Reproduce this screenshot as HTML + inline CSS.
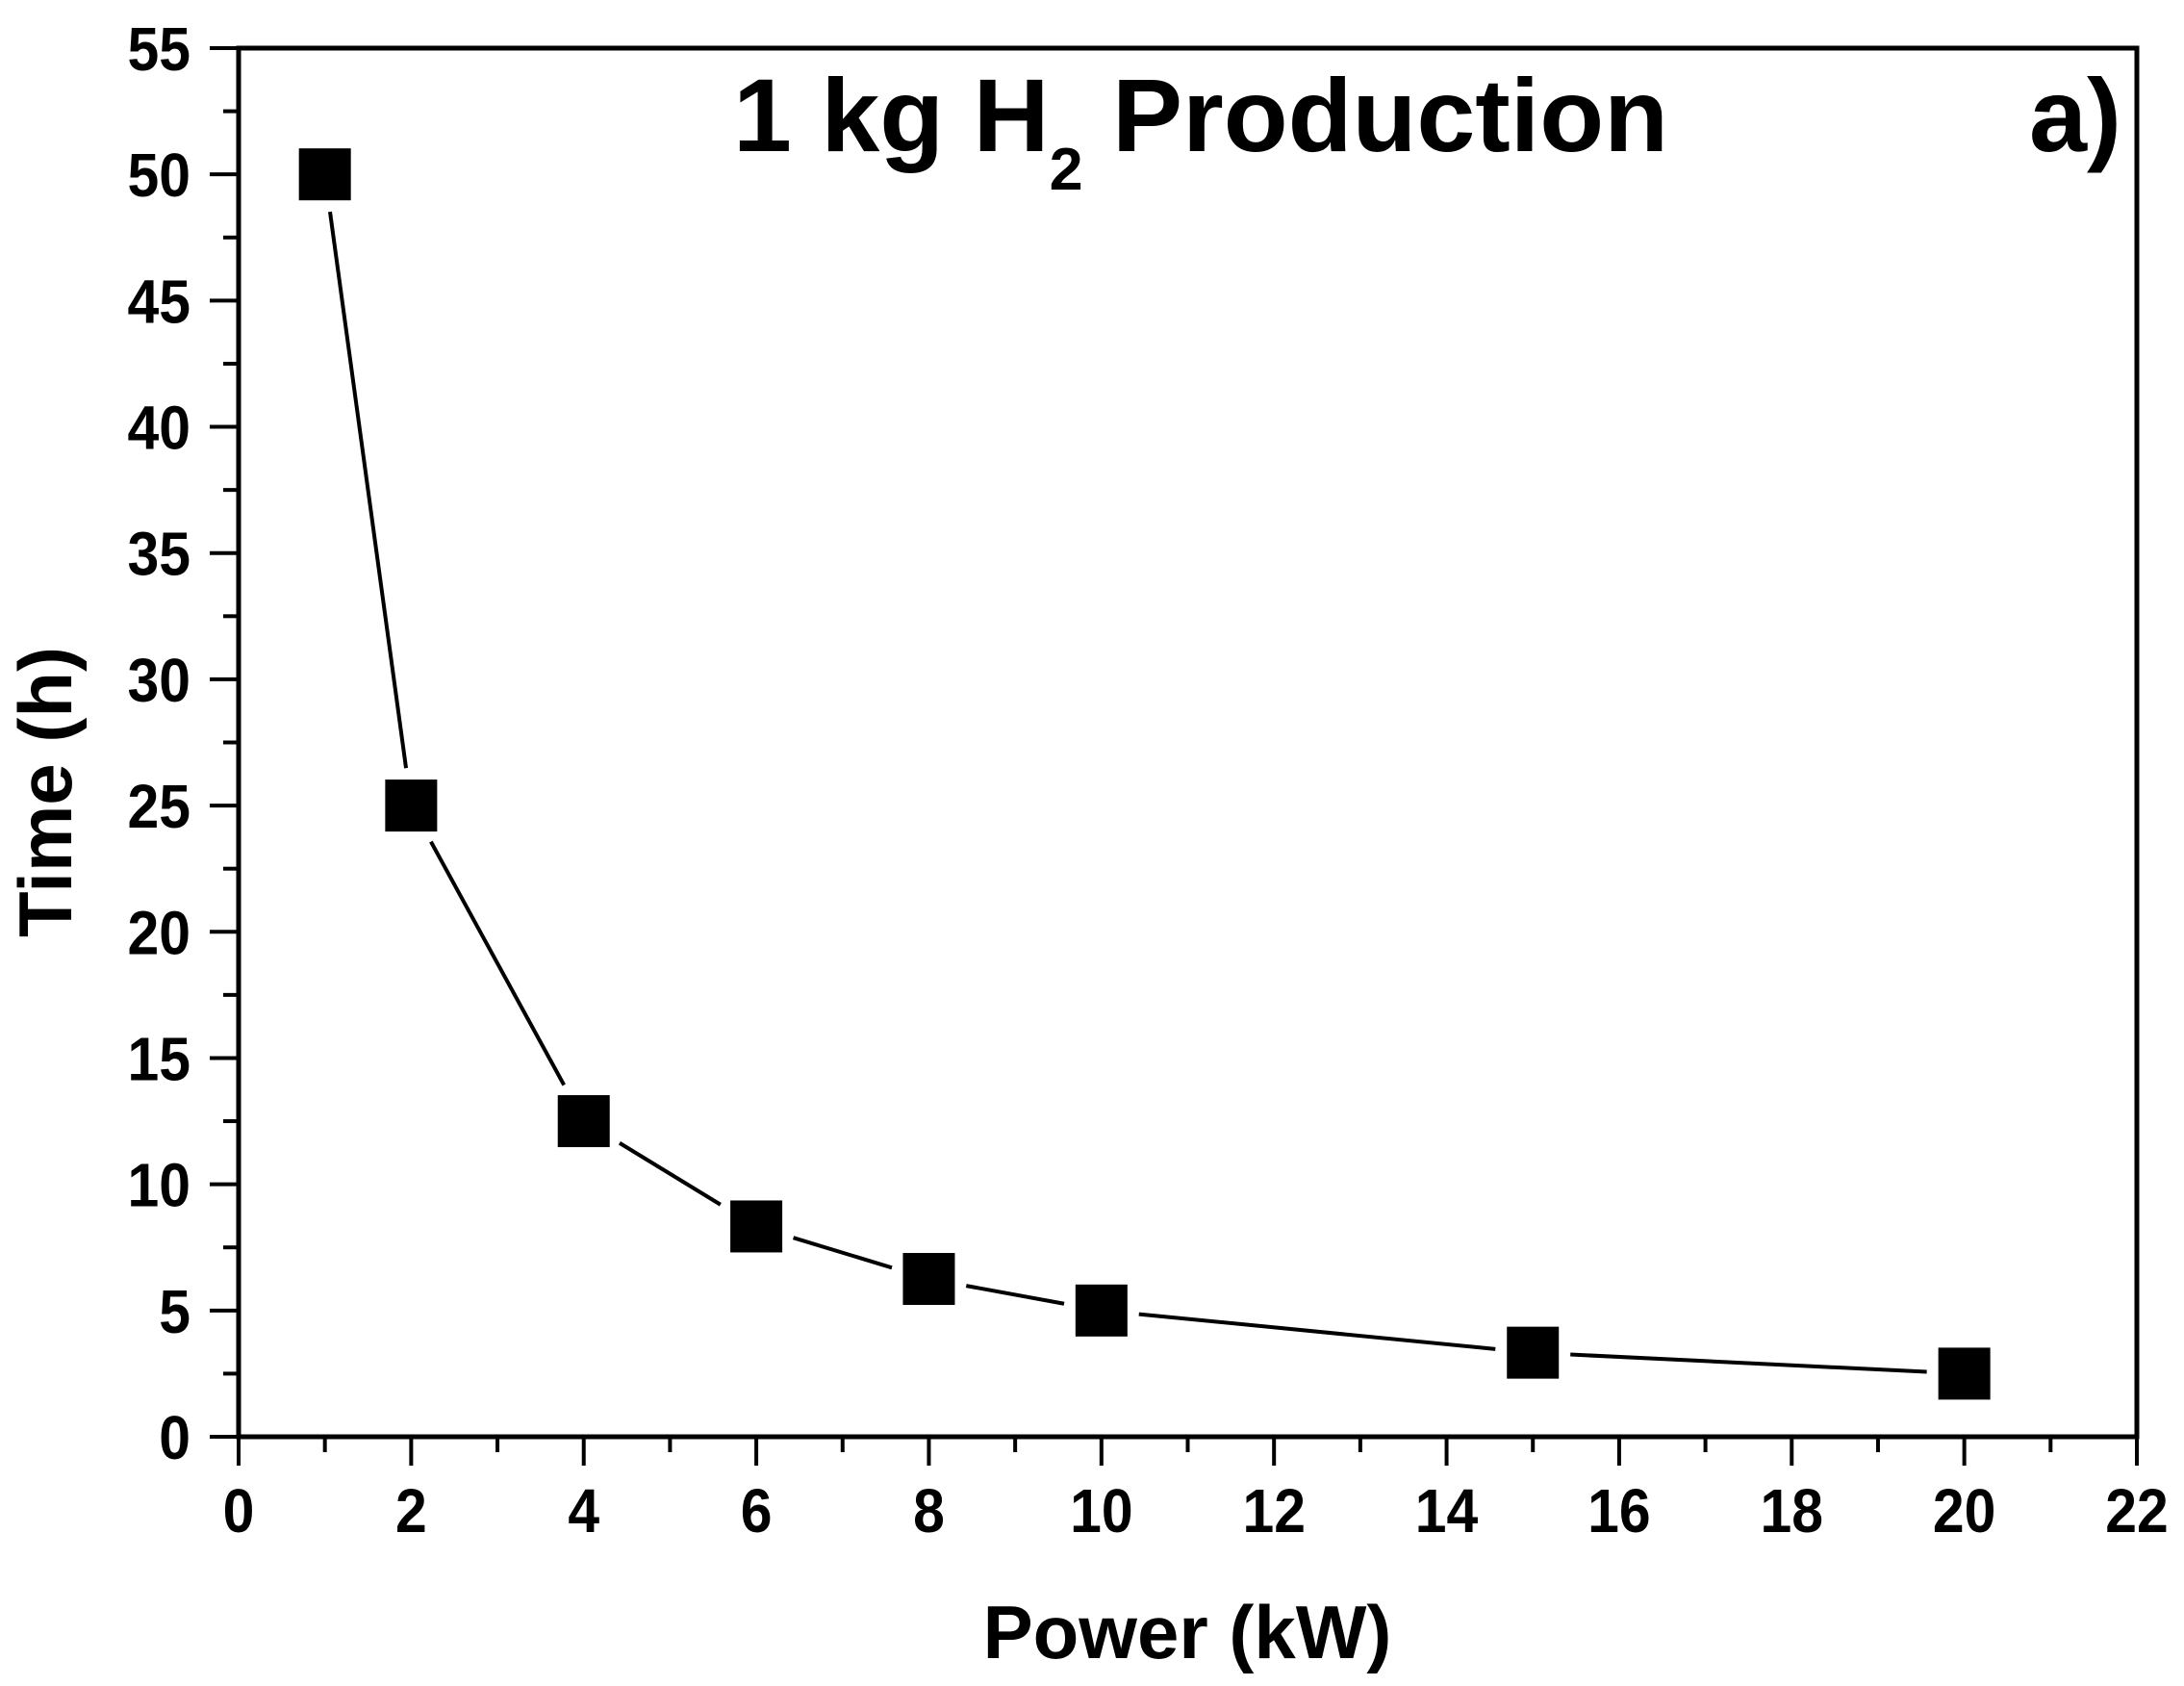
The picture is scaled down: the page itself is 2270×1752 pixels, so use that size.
<!DOCTYPE html>
<html><head><meta charset="utf-8"><style>
html,body{margin:0;padding:0;background:#fff;}
svg{display:block;}
text{font-family:"Liberation Sans",Arial,sans-serif;font-weight:bold;fill:#000;}
</style></head><body>
<svg id="chart" width="2270" height="1752" viewBox="0 0 2270 1752" xmlns="http://www.w3.org/2000/svg">
<g id="axes"></g>
<g id="series"></g>
<text x="762" y="157" font-size="108" textLength="972" lengthAdjust="spacingAndGlyphs">1 kg H<tspan font-size="62" dy="40">2</tspan><tspan dy="-40"> Production</tspan></text>
<text x="2205" y="157" font-size="108" text-anchor="end">a)</text>
<text x="1234" y="1723" font-size="78" text-anchor="middle">Power (kW)</text>
<text x="0" y="0" font-size="78" text-anchor="middle" transform="translate(74,823) rotate(-90)">Time (h)</text>
</svg>
<script>
const powerKW = [1, 2, 4, 6, 8, 10, 15, 20];
const timeH = [50, 25, 12.5, 8.33, 6.25, 5, 3.33, 2.5];
const xTickLabels = ["0","2","4","6","8","10","12","14","16","18","20","22"];
const yTickLabels = ["0","5","10","15","20","25","30","35","40","45","50","55"];

const L=248, R=2221, T=50, B=1493;
const xMin=0,xMax=22,yMin=0,yMax=55;
function sx(v){return L+(v-xMin)/(xMax-xMin)*(R-L);}
function sy(v){return B-(v-yMin)/(yMax-yMin)*(B-T);}
const NS="http://www.w3.org/2000/svg";
function mk(tag,attrs,parent){const e=document.createElementNS(NS,tag);for(const k in attrs)e.setAttribute(k,attrs[k]);parent.appendChild(e);return e;}
const axes=document.getElementById('axes');
const series=document.getElementById('series');

const frame=mk('rect',{x:L,y:T,width:R-L,height:B-T,fill:'none',stroke:'#000','stroke-width':5},axes);



for(let v=0; v<=22; v+=1){
  const major = v%2===0;
  const t=mk('line',{x1:sx(v),x2:sx(v),y1:B,y2:B+(major?30:16),stroke:'#000','stroke-width':4},axes);
  
  
}
xTickLabels.forEach(s=>{
  const v=parseFloat(s);
  const t=mk('text',{x:0,y:0,'font-size':64,'text-anchor':'middle',transform:`translate(${sx(v)},1592) scale(0.92,1)`},axes);
  t.textContent=s;
  
  
});
for(let v=0; v<=55; v+=2.5){
  const major = (v%5)===0;
  const t=mk('line',{x1:L-(major?30:16),x2:L,y1:sy(v),y2:sy(v),stroke:'#000','stroke-width':4},axes);
  
  
}
yTickLabels.forEach(s=>{
  const v=parseFloat(s);
  const t=mk('text',{x:0,y:0,'font-size':64,'text-anchor':'end',transform:`translate(198,${sy(v)+23}) scale(0.92,1)`},axes);
  t.textContent=s;
  
  
});

const half=27, gap=12;
for(let i=0;i<powerKW.length-1;i++){
  const x1=sx(powerKW[i]),y1=sy(timeH[i]),x2=sx(powerKW[i+1]),y2=sy(timeH[i+1]);
  const dx=x2-x1, dy=y2-y1, len=Math.hypot(dx,dy);
  const ux=dx/len, uy=dy/len;
  const edge=half/Math.max(Math.abs(ux),Math.abs(uy));
  const off=edge+gap;
  if(len>2*off){
    const seg=mk('line',{x1:x1+ux*off,y1:y1+uy*off,x2:x2-ux*off,y2:y2-uy*off,stroke:'#000','stroke-width':4},series);
    
    
  }
}
powerKW.forEach((p,i)=>{
  const m=mk('rect',{x:sx(p)-half,y:sy(timeH[i])-half,width:2*half,height:2*half,fill:'#000'},series);
  
  
});
</script>
</body></html>
